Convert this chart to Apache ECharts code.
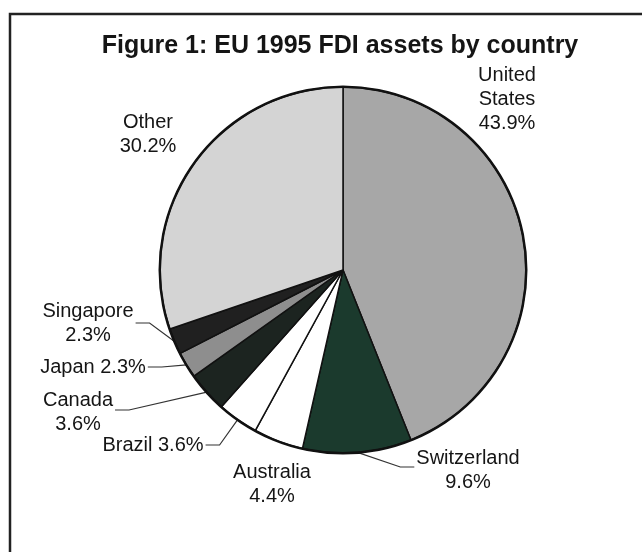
<!DOCTYPE html>
<html>
<head>
<meta charset="utf-8">
<script src="https://cdn.jsdelivr.net/npm/echarts@6/dist/echarts.min.js"></script>
<style>
html,body{margin:0;padding:0;background:#fff;}
#chart{width:642px;height:552px;}
</style>
</head>
<body>
<div id="chart"></div>
<script>
// Data
const countries = ['United\nStates', 'Switzerland', 'Australia', 'Brazil', 'Canada', 'Japan', 'Singapore', 'Other'];
const shares = [43.9, 9.6, 4.4, 3.6, 3.6, 2.3, 2.3, 30.2];
const oneLineLabels = ['Brazil', 'Japan'];
const titleText = 'Figure 1: EU 1995 FDI assets by country';

// Styles
const sliceColors = ['#a7a7a7', '#1b3a2d', '#ffffff', '#ffffff', '#1c2420', '#8e8e8e', '#202020', '#d4d4d4'];
const showLine = [false, true, false, true, true, true, true, false];
// label block centres (layout)
const labelPos = [[507, 99], [468, 470], [272, 484], [153, 445], [78, 412], [93, 367], [88, 323], [148, 134]];
const lineSide = [0, -1, 0, 1, 1, 1, 1, 0]; // -1: line enters label from left, 1: from right
const lineYOff = [0, -3, 0, 0, -2, 0, 0, 0];

const chart = echarts.init(document.getElementById('chart'), null, {renderer: 'canvas'});

const FONT = 'Liberation Sans, Arial, sans-serif';

chart.setOption({
  backgroundColor: '#ffffff',
  animation: false,
  title: {
    text: titleText,
    left: 335,
    textAlign: 'center',
    top: 29,
    textStyle: {fontFamily: FONT, fontWeight: 'bold', fontSize: 25, color: '#151515'}
  },
  graphic: [{
    type: 'rect',
    shape: {x: 10, y: 14, width: 660, height: 560},
    style: {fill: 'none', stroke: '#222', lineWidth: 2.5},
    silent: true
  }],
  series: [{
    type: 'pie',
    center: [343, 270],
    radius: [0, 183],
    startAngle: 90,
    clockwise: true,
    avoidLabelOverlap: false,
    data: countries.map((c, i) => ({
      name: c,
      value: shares[i],
      itemStyle: {color: sliceColors[i]},
      labelLine: {show: showLine[i]}
    })),
    itemStyle: {borderColor: '#111', borderWidth: 1.5},
    label: {
      show: true,
      position: 'outside',
      fontFamily: FONT,
      fontSize: 20,
      lineHeight: 24,
      color: '#151515',
      align: 'center',
      formatter: p => p.name + (oneLineLabels.includes(p.name) ? ' ' : '\n') + p.value.toFixed(1) + '%'
    },
    labelLine: {
      show: true,
      length: 10,
      length2: 10,
      lineStyle: {color: '#333', width: 1.2}
    },
    labelLayout: function (p) {
      const i = p.dataIndex;
      const pos = labelPos[i];
      const res = {x: pos[0], y: pos[1], align: 'center', verticalAlign: 'middle'};
      if (showLine[i] && p.labelLinePoints) {
        const w = p.labelRect.width;
        const start = p.labelLinePoints[0];
        const ex = pos[0] + lineSide[i] * (w / 2 + 2);
        const ey = pos[1] + lineYOff[i];
        res.labelLinePoints = [start, [ex + lineSide[i] * 14, ey], [ex, ey]];
      }
      return res;
    }
  }, {
    // outer rim of the pie (thicker outline)
    type: 'pie',
    center: [343, 270],
    radius: [182, 184.5],
    silent: true,
    label: {show: false},
    labelLine: {show: false},
    itemStyle: {color: '#111', borderWidth: 0},
    data: [{value: 1, name: 'rim'}]
  }]
});
</script>
</body>
</html>
